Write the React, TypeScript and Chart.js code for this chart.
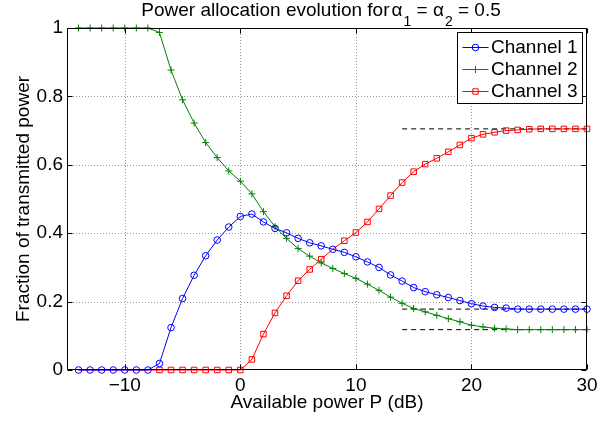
import React, { useEffect, useRef } from 'react';
import { Chart, registerables } from 'chart.js';

Chart.register(...registerables);

const powerDb = [
  -14, -13, -12, -11, -10, -9, -8, -7, -6, -5, -4, -3, -2, -1, 0,
  1, 2, 3, 4, 5, 6, 7, 8, 9, 10, 11, 12, 13, 14, 15,
  16, 17, 18, 19, 20, 21, 22, 23, 24, 25, 26, 27, 28, 29, 30,
];

const channel1 = [
  0, 0, 0, 0, 0, 0, 0, 0.019, 0.124, 0.209, 0.277, 0.334, 0.38, 0.418, 0.449,
  0.456, 0.433, 0.414, 0.401, 0.385, 0.372, 0.363, 0.353, 0.344, 0.331, 0.316, 0.3, 0.278, 0.26, 0.241,
  0.229, 0.22, 0.212, 0.203, 0.194, 0.187, 0.183, 0.181, 0.178, 0.178, 0.178, 0.178, 0.178, 0.178, 0.178,
];

const channel2 = [
  1, 1, 1, 1, 1, 1, 1, 0.987, 0.877, 0.79, 0.722, 0.665, 0.621, 0.582, 0.552,
  0.515, 0.463, 0.419, 0.385, 0.355, 0.333, 0.313, 0.297, 0.282, 0.268, 0.251, 0.233, 0.213, 0.195, 0.18,
  0.17, 0.16, 0.15, 0.141, 0.131, 0.126, 0.122, 0.12, 0.118, 0.118, 0.118, 0.118, 0.118, 0.118, 0.118,
];

const channel3 = [
  0, 0, 0, 0, 0, 0, 0, 0, 0, 0, 0, 0, 0, 0, 0,
  0.031, 0.105, 0.167, 0.217, 0.261, 0.294, 0.324, 0.353, 0.378, 0.402, 0.433, 0.471, 0.51, 0.548, 0.58,
  0.602, 0.619, 0.638, 0.658, 0.678, 0.689, 0.695, 0.7, 0.702, 0.704, 0.705, 0.705, 0.705, 0.705, 0.705,
];

const asymptoteX = [14, 30];
const asymptoteLevels = [0.705, 0.178, 0.118];

const xTicks = [-10, 0, 10, 20, 30];
const yTicks = [0, 0.2, 0.4, 0.6, 0.8, 1];
const seriesNames = ['Channel 1', 'Channel 2', 'Channel 3'];
const seriesColors = ['#0000ff', '#008000', '#ff0000'];
const seriesMarkers = ['circle', 'cross', 'rect'];

const FONT = "'Liberation Sans', Arial, Helvetica, sans-serif";

function drawMarker(ctx: CanvasRenderingContext2D, style: string, x: number, y: number, color: string) {
  ctx.save();
  ctx.strokeStyle = color;
  ctx.lineWidth = 1;
  ctx.beginPath();
  if (style === 'circle') {
    ctx.arc(x, y, 3.3, 0, Math.PI * 2);
  } else if (style === 'cross') {
    ctx.moveTo(x - 3.5, y);
    ctx.lineTo(x + 3.5, y);
    ctx.moveTo(x, y - 3.5);
    ctx.lineTo(x, y + 3.5);
  } else {
    ctx.rect(x - 2.7, y - 2.7, 5.4, 5.4);
  }
  ctx.stroke();
  ctx.restore();
}

const framePlugin = {
  id: 'matlabFrame',
  beforeDatasetsDraw(chart: any) {
    const { ctx, chartArea: a, scales } = chart;
    ctx.save();
    ctx.strokeStyle = '#9a9a9a';
    ctx.lineWidth = 1;
    ctx.setLineDash([1, 2]);
    for (const v of xTicks) {
      const px = Math.round(scales.x.getPixelForValue(v)) + 0.5;
      if (px <= a.left + 1 || px >= a.right - 1) continue;
      ctx.beginPath();
      ctx.moveTo(px, a.top);
      ctx.lineTo(px, a.bottom);
      ctx.stroke();
    }
    for (const v of yTicks) {
      const py = Math.round(scales.y.getPixelForValue(v)) + 0.5;
      if (py <= a.top + 1 || py >= a.bottom - 1) continue;
      ctx.beginPath();
      ctx.moveTo(a.left, py);
      ctx.lineTo(a.right, py);
      ctx.stroke();
    }
    ctx.restore();
  },
  afterDatasetsDraw(chart: any) {
    const { ctx, chartArea: a, scales } = chart;
    ctx.save();
    ctx.strokeStyle = '#000';
    ctx.lineWidth = 1;
    ctx.setLineDash([]);
    const L = Math.round(a.left) + 0.5;
    const R = Math.round(a.right) - 0.5;
    const T = Math.round(a.top) + 0.5;
    const B = Math.round(a.bottom) - 0.5;
    ctx.beginPath();
    ctx.rect(L, T, R - L, B - T);
    ctx.stroke();
    const tl = 5;
    ctx.beginPath();
    for (const v of xTicks) {
      const px = Math.round(scales.x.getPixelForValue(v)) + 0.5;
      ctx.moveTo(px, B);
      ctx.lineTo(px, B - tl);
      ctx.moveTo(px, T);
      ctx.lineTo(px, T + tl);
    }
    for (const v of yTicks) {
      const py = Math.round(scales.y.getPixelForValue(v)) + 0.5;
      ctx.moveTo(L, py);
      ctx.lineTo(L + tl, py);
      ctx.moveTo(R, py);
      ctx.lineTo(R - tl, py);
    }
    ctx.stroke();
    ctx.restore();
  },
  afterDraw(chart: any) {
    const { ctx, chartArea: a } = chart;
    ctx.save();
    ctx.fillStyle = '#000';
    // Title with subscripts
    const main = '19px ' + FONT;
    const sub = '14px ' + FONT;
    const parts: [string, string, number, number][] = [
      ['Power allocation evolution for', main, 0, 2],
      ['\u03b1', main, 0, 1],
      ['1', sub, 1, 0],
      [' = ', main, 0, 0],
      ['\u03b1', main, 0, 1],
      ['2', sub, 1, 0],
      [' = 0.5', main, 0, 0],
    ];
    let total = 0;
    for (const [t, f, , gap] of parts) {
      ctx.font = f;
      total += ctx.measureText(t).width + gap;
    }
    let x = 321 - total / 2;
    ctx.textBaseline = 'alphabetic';
    ctx.textAlign = 'left';
    for (const [t, f, s, gap] of parts) {
      ctx.font = f;
      ctx.fillText(t, x, s ? 26 : 16);
      x += ctx.measureText(t).width + gap;
    }
    // X axis title
    ctx.font = main;
    ctx.textAlign = 'center';
    ctx.fillText('Available power P (dB)', (a.left + a.right) / 2, 408);
    // Y axis title
    ctx.save();
    ctx.translate(29, (a.top + a.bottom) / 2);
    ctx.rotate(-Math.PI / 2);
    ctx.textAlign = 'center';
    ctx.fillText('Fraction of transmitted power', 0, 0);
    ctx.restore();
    // Legend
    const lx = 457, ly = 32, lw = 126, lh = 72;
    ctx.fillStyle = '#fff';
    ctx.fillRect(lx, ly, lw, lh);
    ctx.strokeStyle = '#000';
    ctx.lineWidth = 1;
    ctx.strokeRect(lx + 0.5, ly + 0.5, lw - 1, lh - 1);
    const rows = [46.7, 68.5, 90.7];
    seriesNames.forEach((name, i) => {
      const y = rows[i];
      ctx.strokeStyle = seriesColors[i];
      ctx.beginPath();
      ctx.moveTo(462.5, Math.round(y) + 0.5);
      ctx.lineTo(488.5, Math.round(y) + 0.5);
      ctx.stroke();
      drawMarker(ctx, seriesMarkers[i], 475.5, Math.round(y) + 0.5, seriesColors[i]);
      ctx.fillStyle = '#000';
      ctx.font = main;
      ctx.textAlign = 'left';
      ctx.textBaseline = 'middle';
      ctx.fillText(name, 491, y + 1);
    });
    ctx.restore();
  },
};

export default function App() {
  const ref = useRef<HTMLCanvasElement | null>(null);

  useEffect(() => {
    if (!ref.current) return;
    const toXY = (vals: number[]) => powerDb.map((x, i) => ({ x, y: vals[i] }));
    const seriesData = [channel1, channel2, channel3];
    const datasets: any[] = seriesData.map((vals, i) => ({
      label: seriesNames[i],
      data: toXY(vals),
      borderColor: seriesColors[i],
      backgroundColor: 'transparent',
      borderWidth: 1,
      pointStyle: seriesMarkers[i],
      pointRadius:
        i === 0
          ? 3.3
          : i === 1
          ? 3.5
          : (c: any) => (channel1[c.dataIndex] === channel3[c.dataIndex] ? 0 : 3.9),
      pointBorderColor: seriesColors[i],
      pointBackgroundColor: 'transparent',
      pointBorderWidth: 1,
      clip: false,
      tension: 0,
    }));
    asymptoteLevels.forEach((lvl) => {
      datasets.push({
        label: 'asym',
        data: asymptoteX.map((x) => ({ x, y: lvl })),
        borderColor: '#000',
        borderWidth: 1,
        borderDash: [5, 4],
        pointRadius: 0,
        clip: false,
      });
    });

    const chart = new Chart(ref.current, {
      type: 'line',
      data: { datasets },
      options: {
        responsive: false,
        maintainAspectRatio: false,
        animation: false,
        layout: { padding: { top: 28, right: 24, left: 0, bottom: 0 } },
        plugins: {
          legend: { display: false },
          title: { display: false },
          tooltip: { enabled: false },
        },
        scales: {
          x: {
            type: 'linear',
            min: -15,
            max: 30,
            grid: { display: false, drawTicks: false },
            border: { display: false },
            ticks: {
              color: '#000',
              font: { size: 19, family: FONT },
              padding: 4,
              maxRotation: 0,
              autoSkip: false,
              callback: (v: any) => (Number(v) < 0 ? '\u2212' + Math.abs(Number(v)) : String(v)),
            },
            afterBuildTicks: (s: any) => {
              s.ticks = xTicks.map((value) => ({ value }));
            },
            afterFit: (s: any) => {
              s.height = 54;
            },
          },
          y: {
            type: 'linear',
            min: 0,
            max: 1,
            grid: { display: false, drawTicks: false },
            border: { display: false },
            ticks: {
              color: '#000',
              font: { size: 19, family: FONT },
              padding: 4,
              autoSkip: false,
              callback: (v: any) => String(v),
            },
            afterBuildTicks: (s: any) => {
              s.ticks = yTicks.map((value) => ({ value }));
            },
            afterFit: (s: any) => {
              s.width = 67;
            },
          },
        },
      } as any,
      plugins: [framePlugin as any],
    });
    return () => chart.destroy();
  }, []);

  return (
    <div style={{ position: 'fixed', left: 0, top: 0, width: 611, height: 424, background: '#fff' }}>
      <canvas ref={ref} width={611} height={424} style={{ display: 'block', width: 611, height: 424 }} />
    </div>
  );
}
